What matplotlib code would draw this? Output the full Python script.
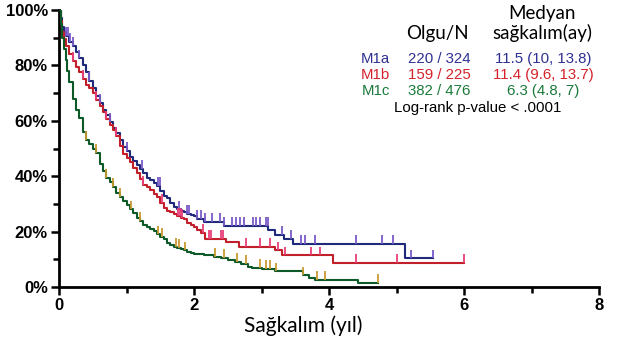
import numpy as np
import matplotlib
matplotlib.use("Agg")
import matplotlib.pyplot as plt
from matplotlib.ticker import MultipleLocator, FuncFormatter

# Kaplan-Meier curves (time in years, survival in %)
t_m1a = [0.00, 0.025, 0.05, 0.075, 0.10, 0.15, 0.20, 0.25, 0.30, 0.35, 0.40, 0.45,
         0.50, 0.55, 0.60, 0.65, 0.70, 0.75, 0.80, 0.85, 0.90, 0.95, 1.00, 1.05,
         1.10, 1.15, 1.20, 1.25, 1.30, 1.35, 1.40, 1.45, 1.50, 1.55, 1.60, 1.65,
         1.70, 1.75, 1.80, 1.85, 1.90, 1.95, 2.00, 2.05, 2.15, 2.45, 3.10, 3.20,
         3.33, 3.47, 5.13, 5.54]
s_m1a = [100, 97, 94, 92, 90.5, 88.5, 87, 85, 82.5, 80, 77.5, 74.5,
         72, 69, 66.5, 64, 62, 59.5, 57.5, 55.5, 53, 50.5, 49, 47,
         45.5, 44, 42.5, 41, 39.5, 38.5, 37.5, 36.5, 34.5, 33, 32, 30.5,
         29, 28, 27.5, 27, 26.5, 26, 25.5, 24.5, 23.6, 22, 20.6, 18.8,
         17.2, 15.7, 10.3, 10.3]

t_m1b = [0.00, 0.025, 0.05, 0.075, 0.10, 0.15, 0.20, 0.25, 0.30, 0.35, 0.40, 0.45,
         0.50, 0.55, 0.60, 0.65, 0.70, 0.75, 0.80, 0.85, 0.90, 0.95, 1.00, 1.05,
         1.10, 1.15, 1.20, 1.25, 1.30, 1.35, 1.40, 1.45, 1.50, 1.55, 1.60, 1.65,
         1.70, 1.75, 1.80, 1.85, 1.90, 1.95, 2.00, 2.05, 2.10, 2.16, 2.48, 2.66,
         3.20, 3.30, 4.06, 6.00]
s_m1b = [100, 96, 92, 89.5, 87, 84, 81.5, 79.5, 77.5, 75, 73, 72,
         70, 67.5, 65.5, 63, 60.5, 58.5, 56.5, 54.5, 51, 48, 46.5, 45,
         43, 41, 39, 37, 36, 35, 33.5, 32.5, 30.5, 28.5, 27.5, 27,
         26.5, 25.5, 25, 24.5, 23, 22.5, 21.5, 20.5, 19.4, 17.5, 16.3, 14.5,
         13.2, 11.4, 8.6, 8.6]

t_m1c = [0.00, 0.025, 0.05, 0.075, 0.10, 0.125, 0.15, 0.20, 0.25, 0.30, 0.35, 0.40,
         0.45, 0.50, 0.55, 0.60, 0.65, 0.70, 0.75, 0.80, 0.85, 0.90, 0.95, 1.00,
         1.05, 1.10, 1.15, 1.20, 1.25, 1.30, 1.35, 1.40, 1.45, 1.50, 1.55, 1.60,
         1.65, 1.70, 1.75, 1.80, 1.85, 1.90, 1.95, 2.00, 2.15, 2.30, 2.40, 2.50,
         2.60, 2.70, 2.80, 2.86, 3.00, 3.20, 3.62, 3.70, 3.79, 4.43, 4.73]
s_m1c = [100, 95, 90, 86, 82, 78, 74, 68, 64, 61, 56, 53,
         51.5, 50, 48.5, 44.5, 42, 39.5, 38, 36, 34, 32.5, 31, 29.5,
         28, 26.8, 25, 24, 22.5, 21.5, 21, 20.2, 19, 18, 17.2, 16,
         15, 14.6, 14, 13.6, 13.2, 12.8, 12.4, 12.0, 11.6, 11.0, 10.5, 9.8,
         9.0, 8.2, 7.4, 6.9, 6.4, 5.6, 4.2, 3.3, 2.5, 1.35, 1.35]

# censored observations (years)
c_m1a = [0.10, 0.13, 0.16, 0.20, 0.30, 0.45, 0.60, 0.75, 1.00, 1.23, 1.47, 1.49,
         1.78, 1.90, 1.93, 2.05, 2.10, 2.16, 2.27, 2.39, 2.45, 2.57, 2.62, 2.68,
         2.74, 2.88, 2.92, 2.98, 3.06, 3.09, 3.30, 3.44, 3.59, 3.65, 3.79, 4.40,
         4.78, 4.95, 5.21, 5.54]
c_m1b = [0.20, 0.35, 0.55, 0.70, 0.85, 1.25, 1.52, 1.76, 1.79, 1.82, 2.13, 2.22,
         2.25, 2.40, 2.43, 2.77, 2.98, 3.12, 3.24, 3.35, 3.73, 3.86, 4.40, 5.01,
         6.00]
c_m1c = [0.40, 0.55, 0.70, 0.80, 0.91, 1.06, 1.20, 1.47, 1.52, 1.73, 1.78, 1.87,
         2.31, 2.45, 2.63, 2.77, 2.98, 3.06, 3.12, 3.21, 3.62, 3.82, 3.94, 4.73]

groups = ["M1a", "M1b", "M1c"]
events = ["220 / 324", "159 / 225", "382 / 476"]
medians = ["11.5 (10, 13.8)", "11.4 (9.6, 13.7)", "6.3 (4.8, 7)"]

line_cols = ["#1f2a7a", "#c21f2b", "#0b5a28"]
text_cols = ["#2e3192", "#d4232c", "#1a7a3a"]
mark_cols = ["#7a5cc8", "#e8407a", "#c89a30"]

fig = plt.figure(figsize=(6.17, 3.44), dpi=100)
ax = fig.add_axes([59 / 617, 1 - 287 / 344, 540 / 617, 277 / 344])

curves = [(t_m1a, s_m1a, c_m1a), (t_m1b, s_m1b, c_m1b), (t_m1c, s_m1c, c_m1c)]
for (t, s, c), lc, mc in zip(curves, line_cols, mark_cols):
    ax.plot(t, s, drawstyle="steps-post", color=lc, lw=1.5, zorder=3)
    # censor ticks sit on the curve and point upward
    idx = np.searchsorted(t, c, side="right") - 1
    sc = np.array(s)[idx]
    ax.vlines(c, sc, sc + 3.2, color=mc, lw=1.3, zorder=4)

ax.set_xlim(0, 8)
ax.set_ylim(0, 100)
ax.xaxis.set_major_locator(MultipleLocator(2))
ax.xaxis.set_minor_locator(MultipleLocator(1))
ax.yaxis.set_major_locator(MultipleLocator(20))
ax.yaxis.set_minor_locator(MultipleLocator(10))
ax.yaxis.set_major_formatter(FuncFormatter(lambda v, p: "%d%%" % v))

for side in ["top", "right"]:
    ax.spines[side].set_visible(False)
for side in ["left", "bottom"]:
    ax.spines[side].set_linewidth(2)
ax.tick_params(which="both", direction="out", width=1.8, color="black")
ax.tick_params(which="major", length=6, pad=2)
ax.tick_params(which="minor", length=4)
for lab in ax.get_xticklabels() + ax.get_yticklabels():
    lab.set_fontfamily("Liberation Sans")
    lab.set_fontweight("bold")
    lab.set_fontsize(12)

fig.text(303 / 617, 1 - 326 / 344, "Sağkalım (yıl)", family="Lato",
         fontsize=15, ha="center", va="center")

# legend block
def fx(px):
    return px / 617

def fy(py):
    return 1 - py / 344

fig.text(fx(437), fy(33), "Olgu/N", family="Lato", fontsize=13.5, ha="center", va="center")
fig.text(fx(542), fy(13), "Medyan", family="Lato", fontsize=13.5, ha="center", va="center")
fig.text(fx(542), fy(33), "sağkalım(ay)", family="Lato", fontsize=13.5, ha="center", va="center")

rows_y = [59, 75, 91]
for g, e, m, col, y in zip(groups, events, medians, text_cols, rows_y):
    fig.text(fx(390), fy(y), g, family="Liberation Sans", fontsize=10.8, color=col,
             ha="right", va="center")
    fig.text(fx(439), fy(y), e, family="Liberation Sans", fontsize=10.8, color=col,
             ha="center", va="center")
    fig.text(fx(543), fy(y), m, family="Liberation Sans", fontsize=10.8, color=col,
             ha="center", va="center")

fig.text(fx(478), fy(108), "Log-rank p-value < .0001", family="Liberation Sans",
         fontsize=10.8, ha="center", va="center")

fig.savefig("out.png", dpi=100)
